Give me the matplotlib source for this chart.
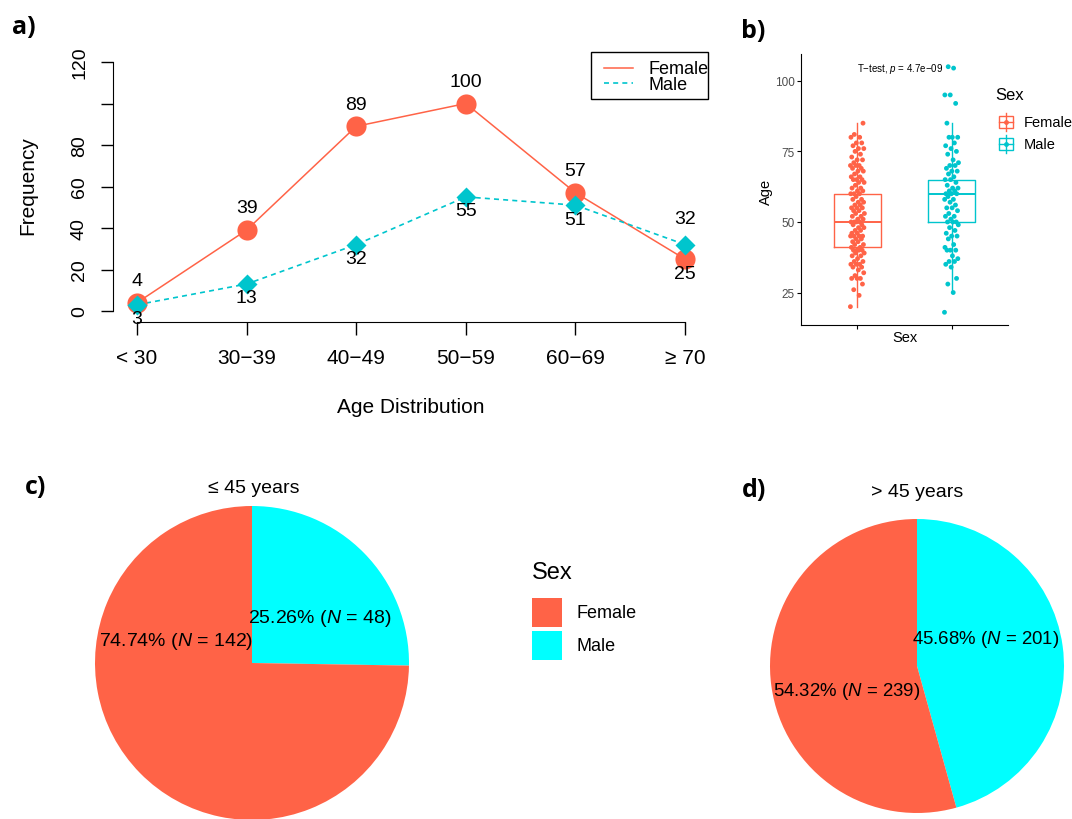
import numpy as np
import matplotlib
matplotlib.use("Agg")
import matplotlib.pyplot as plt
from matplotlib.patches import Rectangle

plt.rcParams["font.family"] = ["Liberation Sans", "DejaVu Sans"]
plt.rcParams["mathtext.fontset"] = "custom"
plt.rcParams["mathtext.it"] = "Liberation Sans:italic"
plt.rcParams["mathtext.rm"] = "Liberation Sans"

# ---- data ----
age_groups = ["< 30", "30\u221239", "40\u221249", "50\u221259", "60\u221269", "\u2265 70"]
female_freq = [4, 39, 89, 100, 57, 25]
male_freq = [3, 13, 32, 55, 51, 32]
female_label_above = [True, True, True, True, True, False]
male_label_above = [False, False, False, False, False, True]

# box statistics
female_box = dict(whislo=20, q1=41, med=50, q3=60, whishi=85)
male_box = dict(whislo=26, q1=50, med=60, q3=65, whishi=85)
female_ages = [20, 24, 26, 28, 30, 30, 30, 31, 32, 33, 34, 34, 35, 35, 35, 36, 36, 37,
               38, 38, 39, 39, 40, 40, 40, 40, 41, 41, 42, 42, 43, 43, 44, 44, 45, 45,
               45, 45, 46, 46, 47, 47, 48, 48, 49, 49, 50, 50, 50, 50, 51, 51, 52, 52,
               53, 53, 54, 54, 55, 55, 55, 56, 56, 57, 57, 58, 58, 59, 60, 60, 60, 61,
               61, 62, 62, 63, 64, 64, 65, 65, 65, 66, 66, 67, 68, 68, 69, 69, 70, 70,
               70, 71, 72, 72, 73, 74, 75, 76, 76, 77, 78, 78, 80, 80, 81, 85]
male_ages = [18, 25, 28, 30, 34, 35, 36, 36, 37, 38, 40, 40, 40, 41, 42, 44, 45, 45,
             46, 47, 48, 49, 50, 50, 50, 51, 52, 52, 53, 54, 55, 55, 56, 57, 58, 58,
             59, 60, 60, 60, 61, 61, 62, 62, 63, 64, 65, 65, 66, 67, 68, 68, 69, 70,
             70, 71, 72, 74, 75, 76, 77, 78, 80, 80, 80, 85, 92, 95, 95, 104.5, 105]
p_text = "T\u2212test, $\\it{p}$ = 4.7e\u221209"

sexes = ["Female", "Male"]
young_counts = [142, 48]   # <= 45 years
old_counts = [239, 201]    # > 45 years

FEM = "#FF6347"
MAL = "#00C5CD"
PIE_F = "#FF6347"
PIE_M = "#00FFFF"

W, H = 1072, 820
fig = plt.figure(figsize=(W / 100, H / 100), dpi=100)


def px_axes(x0, y0, x1, y1):
    return fig.add_axes([x0 / W, 1 - y1 / H, (x1 - x0) / W, (y1 - y0) / H])


# ---- panel a ----
axA = px_axes(113, 63, 708, 323)
x = np.arange(1, len(age_groups) + 1)
axA.plot(x, female_freq, "-", color=FEM, lw=1.1)
axA.plot(x, male_freq, "--", color=MAL, lw=1.2, dashes=(3, 2.5))
axA.plot(x, female_freq, "o", color=FEM, ms=14.5, mec="none")
axA.plot(x, male_freq, "D", color=MAL, ms=10, mec="none")
for xi, v, up in zip(x, female_freq, female_label_above):
    axA.annotate(str(v), (xi, v), xytext=(0, 16 if up else -10), textcoords="offset points",
                 ha="center", va="center", fontsize=14)
for xi, v, up in zip(x, male_freq, male_label_above):
    axA.annotate(str(v), (xi, v), xytext=(0, 19 if up else -10), textcoords="offset points",
                 ha="center", va="center", fontsize=14)
axA.set_xlim(0.781, 6.21)
axA.set_ylim(-5.3, 120)
for s in ["top", "right"]:
    axA.spines[s].set_visible(False)
axA.spines["left"].set_bounds(0, 120)
axA.spines["bottom"].set_bounds(1, 6)
axA.set_xticks(x)
axA.set_xticklabels(age_groups, fontsize=15)
yt = [0, 20, 40, 60, 80, 100, 120]
axA.set_yticks(yt)
axA.set_yticklabels([str(v) if v != 100 else "" for v in yt], rotation=90, va="center", fontsize=14)
axA.tick_params(axis="y", length=9, width=1, pad=9)
axA.tick_params(axis="x", length=9, width=1, pad=10)
axA.set_xlabel("Age Distribution", fontsize=15, va="center")
axA.xaxis.set_label_coords(0.5, (323 - 408) / 260)
axA.set_ylabel("Frequency", fontsize=15, va="center")
axA.yaxis.set_label_coords((28 - 113) / 595, (323 - 186) / 260)

# ---- panel b ----
axB = px_axes(801, 55, 1008, 326)
bp = axB.bxp([female_box, male_box], positions=[1, 2], widths=0.5, showfliers=False,
             showcaps=False, patch_artist=False)
for i, c in enumerate([FEM, MAL]):
    bp["boxes"][i].set(color=c, lw=1)
    bp["medians"][i].set(color=c, lw=1.4)
    for w in bp["whiskers"][2 * i:2 * i + 2]:
        w.set(color=c, lw=1)
for pos, ages, c in [(1, female_ages, FEM), (2, male_ages, MAL)]:
    n = len(ages)
    jit = (((np.arange(n) * 0.6180339) % 1.0) - 0.5) * 0.15
    axB.scatter(pos + jit, ages, s=12, color=c, edgecolors="none", zorder=3)
axB.set_xlim(0.4, 2.6)
axB.set_ylim(13.5, 109.5)
for s in ["top", "right"]:
    axB.spines[s].set_visible(False)
axB.set_xticks([1, 2])
axB.set_xticklabels(["", ""])
axB.set_yticks([25, 50, 75, 100])
axB.tick_params(axis="both", length=3, width=0.8, labelsize=8.5, labelcolor="#4D4D4D", pad=1.5)
axB.set_xlabel("Sex", fontsize=10.5, va="center")
axB.xaxis.set_label_coords(0.502, (326 - 338) / 271)
axB.set_ylabel("Age", fontsize=10.5, va="center")
axB.yaxis.set_label_coords((766 - 801) / 207, (326 - 192) / 271)
axB.text(1.45, 104.5, p_text, ha="center", va="center", fontsize=7)

# ---- panel c / d pies ----
def pie_panel(ax, counts, lab_pos, fs):
    vals = [counts[1], counts[0]]  # male first, clockwise from top
    ax.pie(vals, colors=[PIE_M, PIE_F], startangle=90, counterclock=False, radius=1,
           wedgeprops=dict(linewidth=0))
    ax.set_xlim(-1, 1)
    ax.set_ylim(-1, 1)
    tot = sum(counts)
    for k, (px, py, ha) in zip([1, 0], lab_pos):
        ax.text(px, py, f"{counts[k] / tot * 100:.2f}% ($\\it{{N}}$ = {counts[k]})",
                ha=ha, va="center", fontsize=fs)


axC = px_axes(95, 507, 409, 821)
pie_panel(axC, young_counts, [(-0.025, 0.287, "left"), (0.006, 0.146, "right")], 14)
axD = px_axes(770, 520, 1064, 814)
pie_panel(axD, old_counts, [(-0.034, 0.19, "left"), (0.02, -0.17, "right")], 13.4)

# ---- overlay: titles, legends, panel letters ----
ov = fig.add_axes([0, 0, 1, 1], zorder=10)
ov.set_xlim(0, W)
ov.set_ylim(H, 0)
ov.axis("off")
ov.patch.set_alpha(0)

# panel a legend (box as in the original, text running to its edge)
ov.add_patch(Rectangle((591, 53), 117, 47, facecolor="white", edgecolor="black", lw=1))
ov.plot([604, 633], [69, 69], color=FEM, lw=1.1)
ov.plot([604, 633], [84, 84], color=MAL, lw=1.2, ls="--", dashes=(3, 2.5))
ov.text(648, 70, "Female", ha="left", va="center", fontsize=13)
ov.text(648, 85, "Male", ha="left", va="center", fontsize=13)

ov.text(254, 489, "\u2264 45 years", ha="center", va="center", fontsize=14)
ov.text(917, 493, "> 45 years", ha="center", va="center", fontsize=14)

ov.text(532, 573, "Sex", ha="left", va="center", fontsize=17)
for i, (name, c) in enumerate(zip(sexes, [PIE_F, PIE_M])):
    y0 = 599 + i * 33
    ov.add_patch(Rectangle((532, y0), 30, 29, color=c, lw=0))
    ov.text(577, y0 + 14.5, name, ha="left", va="center", fontsize=13)

ov.text(995, 96, "Sex", ha="left", va="center", fontsize=12)
for i, (name, c) in enumerate(zip(sexes, [FEM, MAL])):
    yc = 123 + i * 22
    ov.plot([1006, 1006], [yc - 9, yc + 9], color=c, lw=1)
    ov.add_patch(Rectangle((999, yc - 6), 14, 12, facecolor="white", edgecolor=c, lw=1))
    ov.plot([999, 1013], [yc, yc], color=c, lw=1)
    ov.plot(1006, yc, "o", color=c, ms=3.5, mec="none")
    ov.text(1024, yc, name, ha="left", va="center", fontsize=10.5)

for lab, (lx, ly) in zip(["a)", "b)", "c)", "d)"], [(24, 28), (753, 32), (36, 488), (754, 491)]):
    ov.text(lx, ly, lab, ha="center", va="center", fontsize=18, fontweight="bold",
            family=["Open Sans", "DejaVu Sans"])

fig.savefig("out.png", dpi=100)
